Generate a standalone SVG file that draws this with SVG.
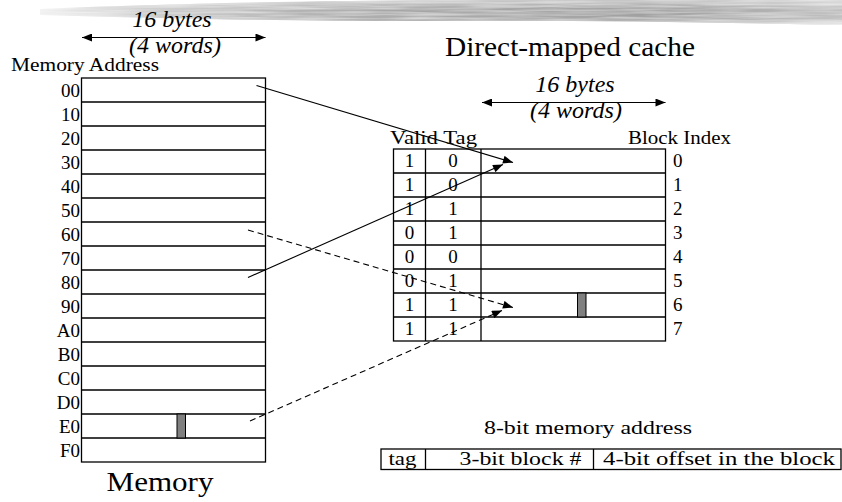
<svg xmlns="http://www.w3.org/2000/svg" width="842" height="502" viewBox="0 0 842 502" font-family="'Liberation Serif', 'Times New Roman', Times, serif">
<style>
  text { font-family: 'Liberation Serif', 'Times New Roman', Times, serif; fill: #000; }
  .lbl { font-size: 19px; }
  .it { font-size: 24px; font-style: italic; }
  .big { font-size: 27px; }
  .mid { text-anchor: middle; }
  .end { text-anchor: end; }
  .box { fill: #fff; stroke: #000; stroke-width: 1.3; }
  .ln { stroke: #000; stroke-width: 1.3; fill: none; }
  .blk { fill: #808080; stroke: #000; stroke-width: 1; }
  .conn { stroke: #000; stroke-width: 1.1; fill: none; }
  .dash { stroke-dasharray: 6 4; }
</style>
<defs>
  <marker id="ah" viewBox="0 0 10 8" refX="10" refY="4" markerWidth="11" markerHeight="8" markerUnits="userSpaceOnUse" orient="auto-start-reverse">
    <path d="M0,0 L10,4 L0,8 z" fill="#000"/>
  </marker>
  <linearGradient id="brushH" x1="0" y1="0" x2="1" y2="0">
    <stop offset="0" stop-color="#f0f0f0"/>
    <stop offset="0.12" stop-color="#cfcfcf"/>
    <stop offset="0.4" stop-color="#a8a8a8"/>
    <stop offset="0.75" stop-color="#9c9c9c"/>
    <stop offset="1" stop-color="#bdbdbd"/>
  </linearGradient>
  <linearGradient id="brushV" x1="0" y1="0" x2="0" y2="1">
    <stop offset="0" stop-color="#fff" stop-opacity="0.45"/>
    <stop offset="0.4" stop-color="#fff" stop-opacity="0"/>
    <stop offset="0.8" stop-color="#fff" stop-opacity="0.1"/>
    <stop offset="1" stop-color="#fff" stop-opacity="0.75"/>
  </linearGradient>
  <filter id="grain" x="0" y="0" width="1" height="1">
    <feTurbulence type="fractalNoise" baseFrequency="0.015 0.5" numOctaves="2" seed="7" result="n"/>
    <feColorMatrix in="n" type="matrix" values="0 0 0 0 1  0 0 0 0 1  0 0 0 0 1  0 0 0 0.8 -0.25" result="w"/>
    <feComposite in="w" in2="SourceGraphic" operator="in" result="wm"/>
    <feMerge><feMergeNode in="SourceGraphic"/><feMergeNode in="wm"/></feMerge>
  </filter>
</defs>

<rect width="842" height="502" fill="#fff"/>

<g id="brush" filter="url(#grain)">
  <path d="M40,9 C150,4 300,1 450,0 L842,0 L842,25 C700,22 560,20 420,21 C300,21 180,19 40,15 Z" fill="url(#brushH)"/>
  <path d="M40,9 C150,4 300,1 450,0 L842,0 L842,25 C700,22 560,20 420,21 C300,21 180,19 40,15 Z" fill="url(#brushV)"/>
</g>

<g id="memory-width">
  <text class="it mid" x="172" y="27">16 bytes</text>
  <text class="it mid" x="175" y="53">(4 words)</text>
</g>

<g id="memory">
  <text class="lbl" x="11" y="71" textLength="148" lengthAdjust="spacingAndGlyphs">Memory Address</text>
  <rect class="box" x="81.5" y="78" width="184" height="384"/>
  <path class="ln" d="M81.5,102H265.5M81.5,126H265.5M81.5,150H265.5M81.5,174H265.5M81.5,198H265.5M81.5,222H265.5M81.5,246H265.5M81.5,270H265.5M81.5,294H265.5M81.5,318H265.5M81.5,342H265.5M81.5,366H265.5M81.5,390H265.5M81.5,414H265.5M81.5,438H265.5"/>
  <g class="lbl end">
    <text x="80" y="96.5">00</text>
    <text x="80" y="120.5">10</text>
    <text x="80" y="144.5">20</text>
    <text x="80" y="168.5">30</text>
    <text x="80" y="192.5">40</text>
    <text x="80" y="216.5">50</text>
    <text x="80" y="240.5">60</text>
    <text x="80" y="264.5">70</text>
    <text x="80" y="288.5">80</text>
    <text x="80" y="312.5">90</text>
    <text x="80" y="336.5">A0</text>
    <text x="80" y="360.5">B0</text>
    <text x="80" y="384.5">C0</text>
    <text x="80" y="408.5">D0</text>
    <text x="80" y="432.5">E0</text>
    <text x="80" y="456.5">F0</text>
  </g>
  <rect class="blk" x="177" y="414" width="8.5" height="24"/>
  <text class="big mid" x="160" y="491" textLength="107" lengthAdjust="spacingAndGlyphs">Memory</text>
</g>

<g id="cache-title">
  <text class="big mid" x="570" y="56" textLength="250" lengthAdjust="spacingAndGlyphs">Direct-mapped cache</text>
</g>

<g id="cache-width">
  <text class="it mid" x="575" y="92">16 bytes</text>
  <text class="it mid" x="576" y="118">(4 words)</text>
</g>

<g id="cache">
  <text class="lbl" x="390" y="144" textLength="87" lengthAdjust="spacingAndGlyphs">Valid Tag</text>
  <text class="lbl" x="628" y="144" textLength="103" lengthAdjust="spacingAndGlyphs">Block Index</text>
  <rect class="box" x="393.5" y="149" width="272" height="192"/>
  <path class="ln" d="M425.5,149V341M481,149V341M393.5,173H665.5M393.5,197H665.5M393.5,221H665.5M393.5,245H665.5M393.5,269H665.5M393.5,293H665.5M393.5,317H665.5"/>
  <g class="lbl mid">
    <text x="409.5" y="166.5">1</text><text x="453" y="166.5">0</text>
    <text x="409.5" y="190.5">1</text><text x="453" y="190.5">0</text>
    <text x="409.5" y="214.5">1</text><text x="453" y="214.5">1</text>
    <text x="409.5" y="238.5">0</text><text x="453" y="238.5">1</text>
    <text x="409.5" y="262.5">0</text><text x="453" y="262.5">0</text>
    <text x="409.5" y="286.5">0</text><text x="453" y="286.5">1</text>
    <text x="409.5" y="310.5">1</text><text x="453" y="310.5">1</text>
    <text x="409.5" y="334.5">1</text><text x="453" y="334.5">1</text>
  </g>
  <g class="lbl">
    <text x="673" y="166.5">0</text>
    <text x="673" y="190.5">1</text>
    <text x="673" y="214.5">2</text>
    <text x="673" y="238.5">3</text>
    <text x="673" y="262.5">4</text>
    <text x="673" y="286.5">5</text>
    <text x="673" y="310.5">6</text>
    <text x="673" y="334.5">7</text>
  </g>
  <rect class="blk" x="577.5" y="293" width="8.5" height="24"/>
</g>

<g id="address-format">
  <text class="lbl" x="484" y="434" textLength="208" lengthAdjust="spacingAndGlyphs">8-bit memory address</text>
  <rect class="box" x="381" y="449" width="460" height="20.5"/>
  <path class="ln" d="M425.5,449V469.5M593.5,449V469.5"/>
  <text class="lbl" x="388.5" y="465" textLength="28" lengthAdjust="spacingAndGlyphs">tag</text>
  <text class="lbl" x="459.5" y="465" textLength="122" lengthAdjust="spacingAndGlyphs">3-bit block #</text>
  <text class="lbl" x="603" y="465" textLength="232" lengthAdjust="spacingAndGlyphs">4-bit offset in the block</text>
</g>

<g id="connectors">
  <line class="conn" x1="82" y1="37.5" x2="265.5" y2="37.5" marker-start="url(#ah)" marker-end="url(#ah)"/>
  <line class="conn" x1="482" y1="102.5" x2="665.5" y2="102.5" marker-start="url(#ah)" marker-end="url(#ah)"/>
  <line class="conn" x1="256.5" y1="85.5" x2="513" y2="162.5" marker-end="url(#ah)"/>
  <line class="conn" x1="248" y1="277.5" x2="503" y2="164.5" marker-end="url(#ah)"/>
  <line class="conn dash" x1="248" y1="230" x2="513" y2="307.5" marker-end="url(#ah)"/>
  <line class="conn dash" x1="250" y1="421" x2="502" y2="310.5" marker-end="url(#ah)"/>
</g>
</svg>
